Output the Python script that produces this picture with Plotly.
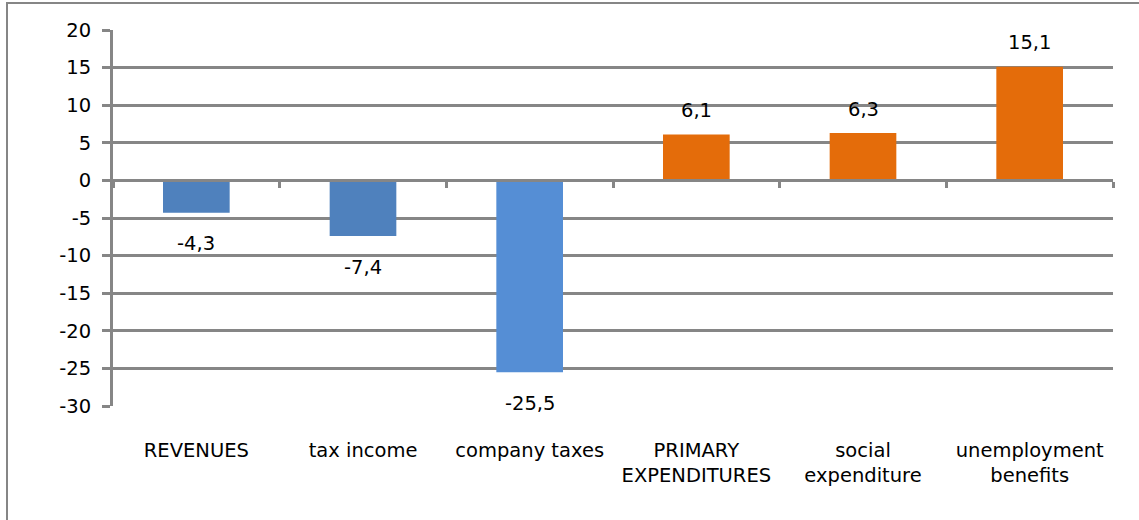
import plotly.graph_objects as go

categories = ["REVENUES", "tax income", "company taxes", "PRIMARY<br>EXPENDITURES",
              "social<br>expenditure", "unemployment<br>benefits"]
values = [-4.3, -7.4, -25.5, 6.1, 6.3, 15.1]
bar_colors = ["#4F81BD", "#4F81BD", "#558ED5", "#E46C0A", "#E46C0A", "#E46C0A"]
y_tick_vals = [-30, -25, -20, -15, -10, -5, 0, 5, 10, 15, 20]
y_tick_text = ["-30", "-25", "-20", "-15", "-10", "-5", "0", "5", "10", "15", "20"]

GRID = "#868686"
FONT = "DejaVu Sans"
FS = 19.5

fig = go.Figure()
fig.add_trace(go.Bar(
    x=categories, y=values, marker=dict(color=bar_colors, line=dict(width=0)),
    width=0.4, showlegend=False, hoverinfo="skip",
))
# invisible trace to hold the zero-line axis with boundary ticks
fig.add_trace(go.Scatter(x=[-0.5, 5.5], y=[0, 0], xaxis="x2", mode="none",
                         showlegend=False, hoverinfo="skip"))

for c, v in zip(categories, values):
    fig.add_annotation(
        x=c, y=v, text=f"{v:.1f}".replace(".", ","), showarrow=False,
        yanchor="middle", yshift=(24 if v > 0 else -31),
        font=dict(family=FONT, size=FS, color="#000000"),
    )

fig.update_layout(
    width=1139, height=520,
    margin=dict(l=113, r=26, t=30, b=114),
    paper_bgcolor="white", plot_bgcolor="white",
    font=dict(family=FONT, size=FS, color="#000000"),
    bargap=0.6,
    xaxis=dict(
        type="category", showgrid=False, showline=False, zeroline=False,
        ticks="", ticklabelstandoff=30, tickfont=dict(family=FONT, size=FS),
    ),
    xaxis2=dict(
        overlaying="x", anchor="free", position=0.6, range=[-0.5, 5.5],
        showgrid=False, zeroline=False, showline=True, linecolor=GRID, linewidth=3,
        ticks="outside", ticklen=6, tickwidth=3, tickcolor=GRID,
        tickvals=[-0.5, 0.5, 1.5, 2.5, 3.5, 4.5, 5.5], showticklabels=False,
    ),
    yaxis=dict(
        range=[-30, 20], tickvals=y_tick_vals, ticktext=y_tick_text,
        showgrid=True, gridcolor=GRID, gridwidth=3,
        zeroline=False, showline=True, linecolor=GRID, linewidth=3,
        ticks="outside", ticklen=8, tickwidth=3, tickcolor=GRID,
        ticklabelstandoff=7, tickfont=dict(family=FONT, size=FS),
    ),
    shapes=[dict(
        type="rect", xref="paper", yref="paper",
        x0=(7 - 113) / 1000, x1=(1150 - 113) / 1000,
        y0=(406 - 530) / 376, y1=(406 - 3) / 376,
        line=dict(color=GRID, width=2), fillcolor="rgba(0,0,0,0)", layer="below",
    )],
)

fig.write_html("out.html", config={"displayModeBar": False},
               post_script="document.body.style.margin='0';")
